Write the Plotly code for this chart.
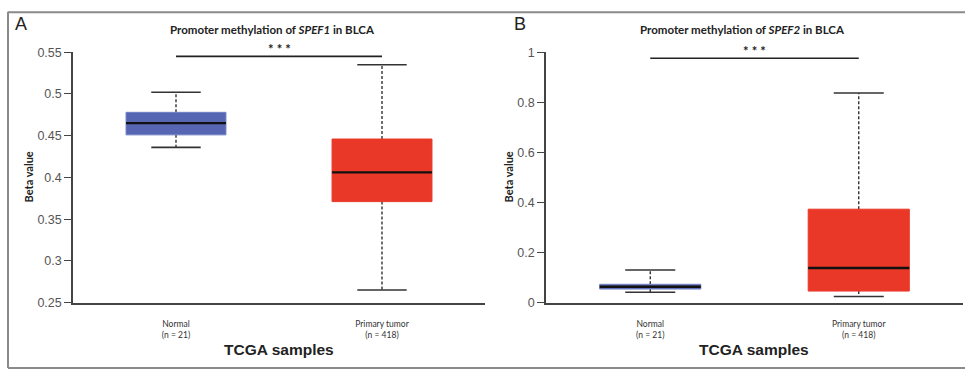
import plotly.graph_objects as go

# ---------------- data ----------------
categories = ["Normal<br>(n = 21)", "Primary tumor<br>(n = 418)"]

A_lower = [0.436, 0.265]
A_q1 = [0.451, 0.371]
A_median = [0.465, 0.406]
A_q3 = [0.478, 0.446]
A_upper = [0.502, 0.535]
A_sig = 0.545

B_lower = [0.041, 0.024]
B_q1 = [0.054, 0.046]
B_median = [0.063, 0.138]
B_q3 = [0.073, 0.373]
B_upper = [0.130, 0.837]
B_sig = 0.976

titles = ["Promoter methylation of <i>SPEF1</i> in BLCA",
          "Promoter methylation of <i>SPEF2</i> in BLCA"]
panel_letters = ["A", "B"]

# ---------------- style ----------------
W, H = 965, 376
FILL = ["#5766b3", "#ea3828"]
EDGE = ["#7280c4", "#ea3828"]
BOX_W = 0.485
CAP_W = 0.24
AXIS_COL = "#444444"


def px(x):
    return x / W


def py(y):
    return 1 - y / H


fig = go.Figure()

panels = [
    dict(lower=A_lower, q1=A_q1, med=A_median, q3=A_q3, upper=A_upper, sig=A_sig,
         xa="x", ya="y"),
    dict(lower=B_lower, q1=B_q1, med=B_median, q3=B_q3, upper=B_upper, sig=B_sig,
         xa="x2", ya="y2"),
]

for p in panels:
    for i in range(len(categories)):
        lo, q1, md, q3, up = p["lower"][i], p["q1"][i], p["med"][i], p["q3"][i], p["upper"][i]
        common = dict(xaxis=p["xa"], yaxis=p["ya"], mode="lines", showlegend=False,
                      hoverinfo="skip")
        # whiskers (dashed)
        fig.add_trace(go.Scatter(x=[i, i, None, i, i], y=[q3, up, None, q1, lo],
                                 line=dict(color="#222222", width=1.3, dash="3px,2px"),
                                 **common))
        # caps
        fig.add_trace(go.Scatter(x=[i - CAP_W / 2, i + CAP_W / 2, None, i - CAP_W / 2, i + CAP_W / 2],
                                 y=[up, up, None, lo, lo],
                                 line=dict(color="#333333", width=1.6), **common))
        # box
        fig.add_trace(go.Scatter(x=[i - BOX_W / 2, i + BOX_W / 2, i + BOX_W / 2, i - BOX_W / 2, i - BOX_W / 2],
                                 y=[q1, q1, q3, q3, q1], fill="toself", fillcolor=FILL[i],
                                 line=dict(color=EDGE[i], width=1), **common))
        # median
        fig.add_trace(go.Scatter(x=[i - BOX_W / 2, i + BOX_W / 2], y=[md, md],
                                 line=dict(color="#111111", width=2.4), **common))
    # significance bar
    fig.add_trace(go.Scatter(x=[0, 1], y=[p["sig"], p["sig"]], xaxis=p["xa"], yaxis=p["ya"],
                             mode="lines", line=dict(color="#222222", width=1.6),
                             showlegend=False, hoverinfo="skip"))
    fig.add_annotation(x=0.5, y=p["sig"], xref=p["xa"], yref=p["ya"], text="<b>* * *</b>",
                       showarrow=False, xanchor="center", yanchor="bottom", yshift=-3,
                       font=dict(family="Lato", size=13, color="#222222"))

tick_font = dict(family="Liberation Sans", size=12.5, color="#555555")
cat_font = dict(family="Lato", size=8.5, color="#333333")

xcommon = dict(range=[-0.5, 1.5], showline=True, linecolor=AXIS_COL, linewidth=1.5,
               ticks="", tickvals=[0, 1], ticktext=categories, tickfont=cat_font,
               showgrid=False, zeroline=False, ticklabelstandoff=12, fixedrange=True)

fig.update_layout(
    width=W, height=H,
    margin=dict(l=0, r=0, t=0, b=0),
    paper_bgcolor="white", plot_bgcolor="white",
    xaxis=dict(domain=[px(73), px(485)], anchor="y", **xcommon),
    xaxis2=dict(domain=[px(546), px(963)], anchor="y2", **xcommon),
    yaxis=dict(domain=[py(307), py(47)], range=[0.25, 0.55], dtick=0.05, tick0=0.25,
               anchor="x", showline=True, linecolor=AXIS_COL, linewidth=1.5,
               ticks="outside", ticklen=7, tickcolor=AXIS_COL, tickwidth=1.3,
               tickfont=tick_font, showgrid=False, zeroline=False),
    yaxis2=dict(domain=[py(307), py(47)], range=[0, 1], dtick=0.2, tick0=0,
                anchor="x2", showline=True, linecolor=AXIS_COL, linewidth=1.5,
                ticks="outside", ticklen=7, tickcolor=AXIS_COL, tickwidth=1.3,
                tickfont=tick_font, showgrid=False, zeroline=False),
)

# titles, panel letters, axis titles
title_x = [272, 742]
letter_x = [13, 512]
ytitle_x = [28, 508]
xtitle_x = [279, 754]
for k in range(2):
    fig.add_annotation(x=px(title_x[k]), y=py(23), xref="paper", yref="paper",
                       xanchor="center", yanchor="middle",
                       text="<b>" + titles[k] + "</b>", showarrow=False,
                       font=dict(family="Lato", size=11.5, color="#222222"))
    fig.add_annotation(x=px(letter_x[k]), y=py(18), xref="paper", yref="paper",
                       text=panel_letters[k], showarrow=False, xanchor="left", yanchor="middle",
                       font=dict(family="Liberation Sans", size=18, color="#222222"))
    fig.add_annotation(x=px(ytitle_x[k]), y=py(177), xref="paper", yref="paper",
                       xanchor="center", yanchor="middle",
                       text="<b>Beta value</b>", textangle=-90, showarrow=False,
                       font=dict(family="Lato", size=11, color="#222222"))
    fig.add_annotation(x=px(xtitle_x[k]), y=py(356), xref="paper", yref="paper",
                       xanchor="center", yanchor="middle",
                       text="<b>TCGA samples</b>", showarrow=False,
                       font=dict(family="Liberation Sans", size=15.5, color="#222222"))

# outer frame
frame = dict(type="line", xref="paper", yref="paper", line=dict(color="#8a8a8a", width=2))
fig.add_shape(x0=px(8), x1=px(965), y0=py(5.5), y1=py(5.5), **frame)
fig.add_shape(x0=px(8), x1=px(965), y0=py(375), y1=py(375), **frame)
fig.add_shape(x0=px(8), x1=px(8), y0=py(5), y1=py(375), **frame)

fig.write_html("out.html")
